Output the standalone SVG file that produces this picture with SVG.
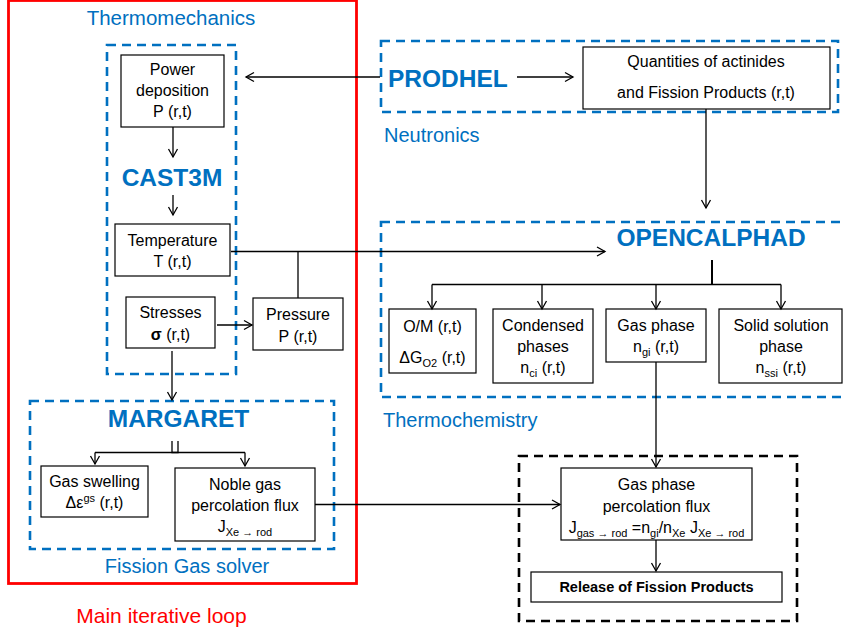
<svg xmlns="http://www.w3.org/2000/svg" width="844" height="634" viewBox="0 0 844 634">
<defs>
<marker id="arr" markerUnits="userSpaceOnUse" markerWidth="12" markerHeight="12" viewBox="-10 -6 12 12" refX="0" refY="0" orient="auto">
<path d="M-8,-4.5 L0,0 L-8,4.5" fill="none" stroke="#000" stroke-width="1.3"/>
</marker>
<style>
.box{fill:#fff;stroke:#000;stroke-width:1.2}
.dash{fill:none;stroke:#0070C0;stroke-width:2.6;stroke-dasharray:9 6}
.kdash{fill:none;stroke:#000;stroke-width:2.6;stroke-dasharray:9 6}
.t{font-family:"Liberation Sans",Arial,sans-serif;font-size:16px;fill:#000;text-anchor:middle}
.lab{font-family:"Liberation Sans",Arial,sans-serif;font-size:20px;fill:#0070C0}
.title{font-family:"Liberation Sans",Arial,sans-serif;font-size:24.5px;font-weight:bold;fill:#0070C0}
.ln{fill:none;stroke:#000;stroke-width:1.3}
.sub{font-size:11px}
</style>
</defs>

<g id="main-loop">
<rect x="8.5" y="0.5" width="348" height="583" fill="none" stroke="#FF0000" stroke-width="2.8"/>
<text x="161.5" y="623" class="lab" style="fill:#FF0000;text-anchor:middle;font-size:21px">Main iterative loop</text>
</g>

<g id="thermomechanics">
<rect x="107" y="45" width="129" height="329" class="dash"/>
<text x="171" y="25" class="lab" text-anchor="middle" style="font-size:20.5px">Thermomechanics</text>
<text x="172" y="186" class="title" text-anchor="middle">CAST3M</text>
</g>

<g id="power-deposition">
<rect x="121" y="55" width="103" height="72" class="box"/>
<text class="t" x="172.5" y="75">Power</text>
<text class="t" x="172.5" y="96">deposition</text>
<text class="t" x="172.5" y="117">P (r,t)</text>
</g>

<g id="temperature">
<rect x="115" y="224" width="115" height="52" class="box"/>
<text class="t" x="172.5" y="246">Temperature</text>
<text class="t" x="172.5" y="267">T (r,t)</text>
</g>

<g id="stresses">
<rect x="126" y="297" width="89" height="51" class="box"/>
<text class="t" x="170.5" y="318">Stresses</text>
<text class="t" x="170.5" y="340"><tspan font-weight="bold">σ</tspan> (r,t)</text>
</g>

<g id="pressure">
<rect x="253" y="298" width="90" height="52" class="box"/>
<text class="t" x="298" y="320">Pressure</text>
<text class="t" x="298" y="342">P (r,t)</text>
</g>

<g id="fission-gas-solver">
<rect x="30" y="401" width="304" height="148" class="dash"/>
<text x="178.5" y="427" class="title" text-anchor="middle">MARGARET</text>
<text x="187" y="573" class="lab" text-anchor="middle">Fission Gas solver</text>
</g>

<g id="gas-swelling">
<rect x="41" y="466" width="107" height="51" class="box"/>
<text class="t" x="94.5" y="487">Gas swelling</text>
<text class="t" x="94.5" y="508">Δε<tspan class="sub" dy="-6">gs</tspan><tspan dy="6"> (r,t)</tspan></text>
</g>

<g id="noble-gas-flux">
<rect x="175" y="468" width="140" height="73" class="box"/>
<text class="t" x="245" y="490">Noble gas</text>
<text class="t" x="245" y="511">percolation flux</text>
<text class="t" x="245" y="532">J<tspan class="sub" dy="4">Xe → rod</tspan></text>
</g>

<g id="neutronics">
<rect x="381" y="41" width="457" height="71" class="dash"/>
<text x="388" y="87" class="title">PRODHEL</text>
<text x="384" y="142" class="lab">Neutronics</text>
</g>

<g id="quantities">
<rect x="583" y="47" width="247" height="62" class="box"/>
<text class="t" x="706" y="67">Quantities of actinides</text>
<text class="t" x="706" y="98">and Fission Products (r,t)</text>
</g>

<g id="thermochemistry">
<rect x="381" y="222" width="480" height="175" class="dash"/>
<text x="711" y="246" class="title" text-anchor="middle">OPENCALPHAD</text>
<text x="383" y="427" class="lab">Thermochemistry</text>
</g>

<g id="om">
<rect x="389" y="309" width="87" height="64" class="box"/>
<text class="t" x="432.5" y="332">O/M (r,t)</text>
<text class="t" x="432.5" y="363">ΔG<tspan class="sub" dy="4">O2</tspan><tspan dy="-4"> (r,t)</tspan></text>
</g>

<g id="condensed-phases">
<rect x="493" y="309" width="100" height="74" class="box"/>
<text class="t" x="543" y="331">Condensed</text>
<text class="t" x="543" y="352">phases</text>
<text class="t" x="543" y="373">n<tspan class="sub" dy="4">ci</tspan><tspan dy="-4"> (r,t)</tspan></text>
</g>

<g id="gas-phase">
<rect x="606" y="309" width="100" height="53" class="box"/>
<text class="t" x="656" y="331">Gas phase</text>
<text class="t" x="656" y="352">n<tspan class="sub" dy="4">gi</tspan><tspan dy="-4"> (r,t)</tspan></text>
</g>

<g id="solid-solution">
<rect x="719" y="309" width="123" height="74" class="box"/>
<text class="t" x="781" y="331">Solid solution</text>
<text class="t" x="781" y="352">phase</text>
<text class="t" x="781" y="373">n<tspan class="sub" dy="4">ssi</tspan><tspan dy="-4"> (r,t)</tspan></text>
</g>

<g id="release-group">
<rect x="519" y="456" width="278" height="165" class="kdash"/>
</g>

<g id="gas-percolation">
<rect x="561" y="468" width="191" height="72" class="box"/>
<text class="t" x="656.5" y="490">Gas phase</text>
<text class="t" x="656.5" y="512">percolation flux</text>
<text class="t" x="656.5" y="533">J<tspan class="sub" dy="4">gas → rod</tspan><tspan dy="-4"> =n</tspan><tspan class="sub" dy="4">gi</tspan><tspan dy="-4">/n</tspan><tspan class="sub" dy="4">Xe</tspan><tspan dy="-4"> J</tspan><tspan class="sub" dy="4">Xe → rod</tspan></text>
</g>

<g id="release">
<rect x="531" y="572" width="251" height="30" class="box"/>
<text class="t" x="656.5" y="592" font-weight="bold" style="font-size:14.5px">Release of Fission Products</text>
</g>

<g id="connectors">
<line x1="380" y1="77" x2="246" y2="77" class="ln" marker-end="url(#arr)"/>
<line x1="517" y1="77" x2="573" y2="77" class="ln" marker-end="url(#arr)"/>
<line x1="173" y1="127" x2="173" y2="157" class="ln" marker-end="url(#arr)"/>
<line x1="173" y1="195" x2="173" y2="215" class="ln" marker-end="url(#arr)"/>
<line x1="231" y1="251.5" x2="298" y2="251.5" class="ln"/>
<line x1="298" y1="251.5" x2="605" y2="251.5" class="ln" stroke="#444" marker-end="url(#arr)"/>
<line x1="298" y1="251.5" x2="298" y2="298" class="ln"/>
<line x1="217" y1="325" x2="252" y2="325" class="ln" marker-end="url(#arr)"/>
<line x1="172" y1="351" x2="172" y2="400" class="ln" marker-end="url(#arr)"/>
<path d="M172,441 V452.5 H178 V441" class="ln"/>
<line x1="95" y1="452.5" x2="245" y2="452.5" class="ln"/>
<line x1="95" y1="452.5" x2="95" y2="464" class="ln" marker-end="url(#arr)"/>
<line x1="245" y1="452.5" x2="245" y2="466" class="ln" marker-end="url(#arr)"/>
<line x1="315" y1="504.5" x2="560" y2="504.5" class="ln" marker-end="url(#arr)"/>
<line x1="706" y1="109" x2="706" y2="208" class="ln" marker-end="url(#arr)"/>
<line x1="712" y1="260" x2="712" y2="284.5" stroke="#000" stroke-width="2"/>
<line x1="432" y1="284.5" x2="781" y2="284.5" class="ln"/>
<line x1="432" y1="284.5" x2="432" y2="309" class="ln" marker-end="url(#arr)"/>
<line x1="542" y1="284.5" x2="542" y2="309" class="ln" marker-end="url(#arr)"/>
<line x1="656" y1="284.5" x2="656" y2="309" class="ln" marker-end="url(#arr)"/>
<line x1="781" y1="284.5" x2="781" y2="309" class="ln" marker-end="url(#arr)"/>
<line x1="656" y1="362" x2="656" y2="467" class="ln" marker-end="url(#arr)"/>
<line x1="656" y1="540" x2="656" y2="571" class="ln" marker-end="url(#arr)"/>
</g>
</svg>
